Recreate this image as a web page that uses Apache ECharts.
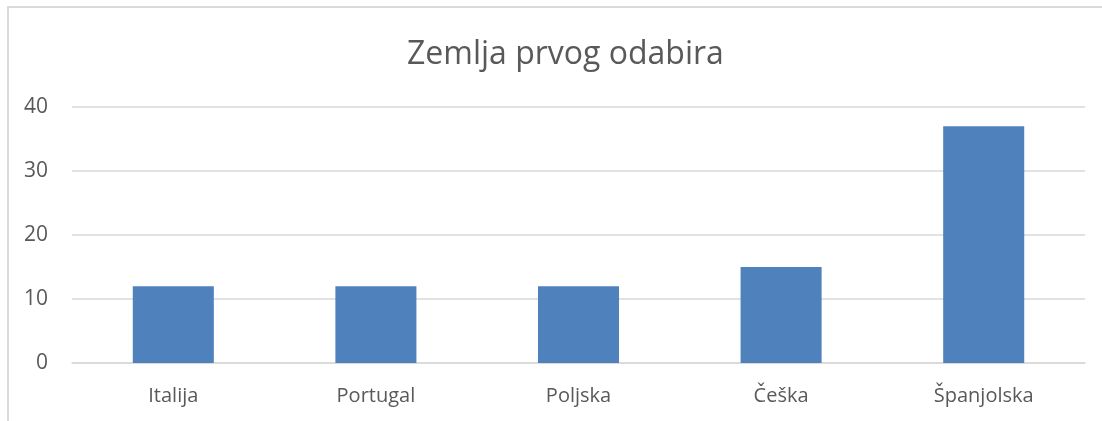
<!DOCTYPE html>
<html>
<head>
<meta charset="utf-8">
<script src="https://cdn.jsdelivr.net/npm/echarts@6/dist/echarts.min.js"></script>
<style>
  html, body { margin: 0; padding: 0; background: #fff; }
  #chart { width: 1102px; height: 421px; }
</style>
</head>
<body>
<div id="chart"></div>
<script>
// podaci
const categories = ['Italija', 'Portugal', 'Poljska', 'Češka', 'Španjolska']
const values = [12, 12, 12, 15, 37]
const yTicks = [0, 10, 20, 30, 40]

const textColor = '#595959'
const fontFamily = '"Open Sans", "Noto Sans", sans-serif'

const chart = echarts.init(document.getElementById('chart'))
chart.setOption({
    animation: false,
    title: {
        text: 'Zemlja prvog odabira',
        left: 402,
        top: 34,
        textStyle: { color: textColor, fontSize: 32, fontWeight: 'normal', fontFamily: fontFamily }
    },
    graphic: [{
        type: 'rect',
        shape: { x: 8, y: 7, width: 1200, height: 500 },
        style: { fill: 'none', stroke: '#d9d9d9', lineWidth: 2 },
        silent: true
    }],
    grid: { left: 72, right: 17, top: 107, bottom: 58 },
    xAxis: {
        type: 'category',
        data: categories,
        axisTick: { show: false },
        axisLine: { lineStyle: { color: '#d9d9d9', width: 1.5 } },
        axisLabel: { color: textColor, fontSize: 20, fontFamily: fontFamily, margin: 23 }
    },
    yAxis: {
        type: 'value',
        min: yTicks[0],
        max: yTicks[yTicks.length - 1],
        interval: 10,
        axisLine: { show: false },
        axisTick: { show: false },
        splitLine: { lineStyle: { color: '#d9d9d9', width: 1.5 } },
        axisLabel: { color: textColor, fontSize: 21, fontFamily: fontFamily, margin: 24 }
    },
    series: [{
        type: 'bar',
        data: values,
        barWidth: '40%',
        itemStyle: { color: '#4f81bd' }
    }]
})
</script>
</body>
</html>
